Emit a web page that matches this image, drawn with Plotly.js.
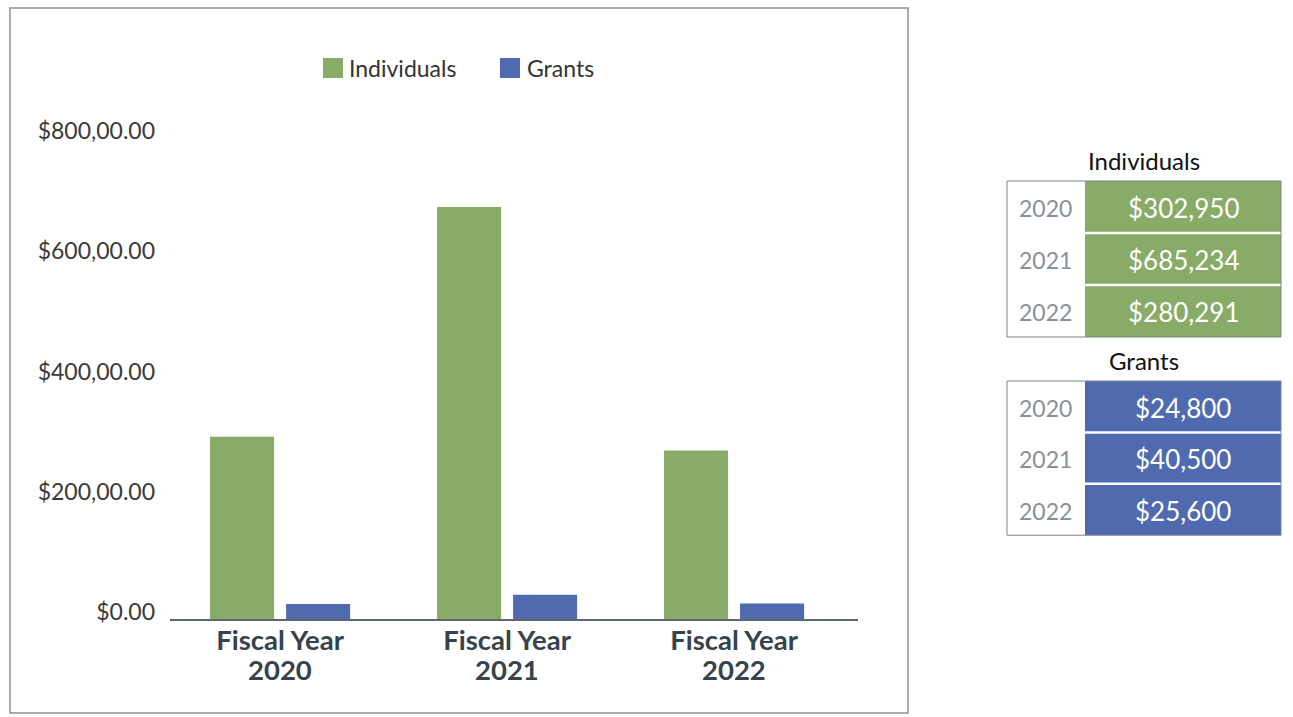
<!DOCTYPE html>
<html>
<head>
<meta charset="utf-8">
<script src="https://cdn.plot.ly/plotly-3.0.1.min.js"></script>
<style>html,body{margin:0;padding:0;background:#fff;}#chart{width:1293px;height:717px;}</style>
</head>
<body>
<div id="chart"></div>
<script>
// ---- data ----
const categoryPrefix = ['Fiscal Year', 'Fiscal Year', 'Fiscal Year'];
const years = ['2020', '2021', '2022'];
const individuals = [302950, 685234, 280291];
const grants = [24800, 40500, 25600];
const yTickVals = [0, 200000, 400000, 600000, 800000];
const yTickText = ['$0.00', '$200,00.00', '$400,00.00', '$600,00.00', '$800,00.00'];
const seriesNames = ['Individuals', 'Grants'];

// ---- styles ----
const GREEN = '#88ab67';
const BLUE = '#4f6aaf';
const FONT = 'Lato, "Open Sans", sans-serif';
const XLABEL = '#36434d';

// plot area in pixels
const L = 170, R = 858, T = 138, B = 619, W = 1293, H = 717;
const px = x => (x - L) / (R - L);
const py = y => (B - y) / (B - T);

const fmt = v => '$' + v.toLocaleString('en-US');
const xs = years.map((_, i) => i);

const traces = [
  {type: 'bar', name: seriesNames[0], x: xs, y: individuals,
   marker: {color: GREEN}, showlegend: false, hoverinfo: 'y'},
  {type: 'bar', name: seriesNames[1], x: xs, y: grants,
   marker: {color: BLUE}, showlegend: false, hoverinfo: 'y'}
];

const shapes = [];
const annotations = [];

// outer frame
shapes.push({type: 'rect', xref: 'paper', yref: 'paper', x0: px(10), x1: px(908), y0: py(713), y1: py(8),
  line: {color: '#8a9197', width: 1.5}, fillcolor: 'rgba(0,0,0,0)', layer: 'below'});

// second line of category labels (year)
years.forEach((yr, i) => {
  annotations.push({xref: 'x', yref: 'paper', x: xs[i], y: py(669), xanchor: 'center', yanchor: 'middle',
    text: yr, showarrow: false, font: {family: FONT, size: 27.5, color: XLABEL, weight: 700}});
});

// custom legend
const legendItems = [
  {name: seriesNames[0], color: GREEN, sx: 323, tx: 347},
  {name: seriesNames[1], color: BLUE, sx: 500, tx: 525}
];
legendItems.forEach(it => {
  shapes.push({type: 'rect', xref: 'paper', yref: 'paper', x0: px(it.sx), x1: px(it.sx + 20), y0: py(78), y1: py(58),
    line: {width: 0}, fillcolor: it.color});
  annotations.push({xref: 'paper', yref: 'paper', x: px(it.tx), y: py(68), xanchor: 'left', yanchor: 'middle',
    text: it.name, showarrow: false, font: {family: FONT, size: 23, color: '#333333'}});
});

// side tables
function addTable(title, values, color, top, rowH) {
  const left = 1007, mid = 1085, right = 1281;
  const bottom = top + rowH * values.length;
  annotations.push({xref: 'paper', yref: 'paper', x: px(1144), y: py(top - 21), xanchor: 'center', yanchor: 'middle',
    text: title, showarrow: false, font: {family: FONT, size: 24, color: '#111111'}});
  shapes.push({type: 'rect', xref: 'paper', yref: 'paper', x0: px(mid), x1: px(right), y0: py(bottom), y1: py(top),
    line: {width: 0}, fillcolor: color});
  for (let i = 1; i < values.length; i++) {
    const yy = top + i * rowH;
    shapes.push({type: 'line', xref: 'paper', yref: 'paper', x0: px(mid), x1: px(right), y0: py(yy), y1: py(yy),
      line: {color: '#ffffff', width: 2.5}});
  }
  shapes.push({type: 'rect', xref: 'paper', yref: 'paper', x0: px(left), x1: px(right), y0: py(bottom), y1: py(top),
    line: {color: '#7d858c', width: 1}, fillcolor: 'rgba(0,0,0,0)'});
  values.forEach((v, i) => {
    const cy = top + rowH * i + rowH / 2 + 1;
    annotations.push({xref: 'paper', yref: 'paper', x: px(1045), y: py(cy), xanchor: 'center', yanchor: 'middle',
      text: years[i], showarrow: false, font: {family: FONT, size: 23, color: '#8a9098'}});
    annotations.push({xref: 'paper', yref: 'paper', x: px(1183), y: py(cy), xanchor: 'center', yanchor: 'middle',
      text: fmt(v), showarrow: false, font: {family: FONT, size: 26, color: '#ffffff'}});
  });
}
addTable(seriesNames[0], individuals, GREEN, 181, 52);
addTable(seriesNames[1], grants, BLUE, 381, 51.4);

const layout = {
  width: W, height: H,
  margin: {l: L, r: W - R, t: T, b: H - B, pad: 0},
  paper_bgcolor: '#ffffff', plot_bgcolor: '#ffffff',
  barmode: 'group', bargap: 0.33, bargroupgap: 0.158,
  showlegend: false,
  font: {family: FONT},
  xaxis: {
    range: [-0.485, 2.546], tickvals: xs, ticktext: categoryPrefix,
    showgrid: false, zeroline: false, showline: true, linecolor: '#5b6670', linewidth: 1.5,
    ticks: '', ticklabelstandoff: -4,
    tickfont: {family: FONT, size: 27.5, color: XLABEL, weight: 700}, fixedrange: true
  },
  yaxis: {
    range: [0, 800000], tickvals: yTickVals, ticktext: yTickText,
    showgrid: false, zeroline: false, showline: false, ticks: '',
    ticklabelstandoff: 14, ticklabelshift: -7,
    tickfont: {family: FONT, size: 23, color: '#3a3a3a'}, fixedrange: true
  },
  shapes: shapes,
  annotations: annotations
};

Plotly.newPlot('chart', traces, layout, {displayModeBar: false, staticPlot: true});
</script>
</body>
</html>
